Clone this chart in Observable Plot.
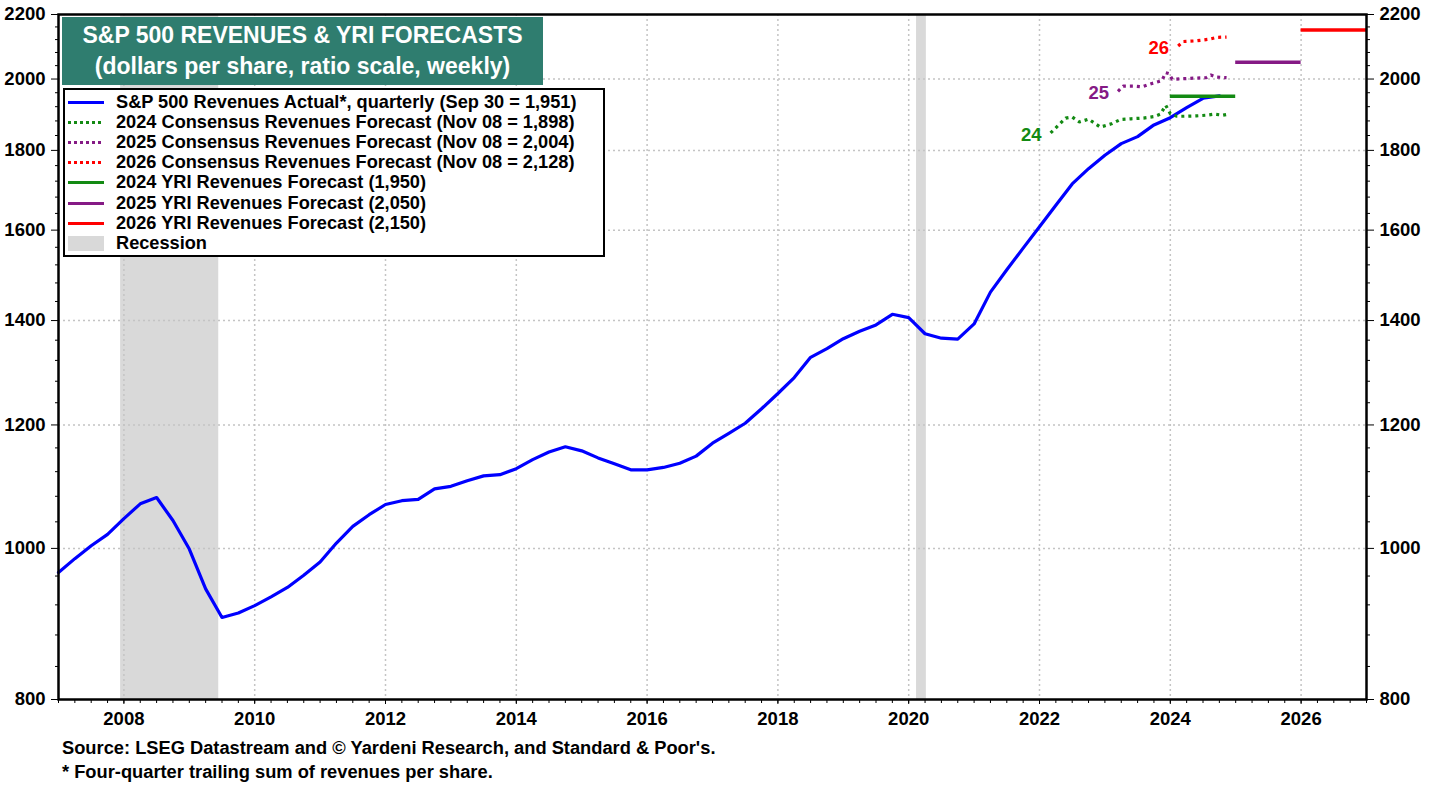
<!DOCTYPE html>
<html><head><meta charset="utf-8">
<script src="https://cdn.jsdelivr.net/npm/d3@7"></script>
<script src="https://cdn.jsdelivr.net/npm/@observablehq/plot@0.6"></script>
<style>
body{margin:0;background:#fff;font-family:"Liberation Sans",Arial,sans-serif;}
#wrap{position:relative;width:1438px;height:790px;overflow:hidden;}
#title{position:absolute;left:62px;top:17px;width:481px;height:68px;background:#2f7d6f;color:#fff;font-weight:bold;font-size:23px;text-align:center;box-sizing:border-box;padding-top:3px;line-height:31px;white-space:nowrap;}
#legend{position:absolute;left:63px;top:88px;width:542px;height:169px;border:2px solid #000;background:#fff;box-sizing:border-box;}
.row{position:absolute;left:0;height:20px;line-height:20px;font-weight:bold;font-size:18.2px;white-space:nowrap;}
.row svg{position:absolute;left:1px;top:0;}
.row span{position:absolute;left:51px;top:0;}
.cap{position:absolute;left:62px;font-weight:bold;font-size:18.3px;white-space:nowrap;}
</style></head>
<body>
<div id="wrap">
<div id="chart"></div>
<div id="title">S&amp;P 500 REVENUES &amp; YRI FORECASTS<br>(dollars per share, ratio scale, weekly)</div>
<div id="legend"></div>
<div class="cap" style="top:737px">Source: LSEG Datastream and © Yardeni Research, and Standard &amp; Poor's.</div>
<div class="cap" style="top:761px">* Four-quarter trailing sum of revenues per share.</div>
</div>
<script>
// ---- Data ----
const actualDates = [2007.00,2007.25,2007.50,2007.75,2008.00,2008.25,2008.50,2008.75,2009.00,2009.25,2009.50,2009.75,
2010.00,2010.25,2010.50,2010.75,2011.00,2011.25,2011.50,2011.75,2012.00,2012.25,2012.50,2012.75,
2013.00,2013.25,2013.50,2013.75,2014.00,2014.25,2014.50,2014.75,2015.00,2015.25,2015.50,2015.75,
2016.00,2016.25,2016.50,2016.75,2017.00,2017.25,2017.50,2017.75,2018.00,2018.25,2018.50,2018.75,
2019.00,2019.25,2019.50,2019.75,2020.00,2020.25,2020.50,2020.75,2021.00,2021.25,2021.50,2021.75,
2022.00,2022.25,2022.50,2022.75,2023.00,2023.25,2023.50,2023.75,2024.00,2024.25,2024.50,2024.75];
const actualValues = [965,985,1004,1021,1045,1068,1078,1042,999,942,903,909,
919,931,944,961,980,1008,1033,1051,1067,1073,1075,1092,
1096,1105,1113,1115,1125,1140,1153,1162,1155,1143,1133,1123,
1123,1127,1134,1146,1168,1185,1203,1229,1257,1287,1326,1343,
1363,1378,1391,1413,1406,1373,1364,1362,1393,1460,1509,1558,
1608,1660,1713,1752,1787,1818,1837,1869,1889,1917,1944,1951];

const cons24Dates  = [2022.17,2022.30,2022.40,2022.50,2022.61,2022.75,2022.93,2023.10,2023.24,2023.40,2023.59,2023.75,2023.85,2023.93,2024.00,2024.10,2024.21,2024.40,2024.55,2024.67,2024.80,2024.86];
const cons24Values = [1847,1870,1888,1891,1877,1885,1863,1872,1884,1886,1888,1892,1899,1924,1900,1893,1893,1894,1896,1899,1896,1898];
const cons25Dates  = [2023.20,2023.28,2023.46,2023.57,2023.72,2023.87,2023.93,2023.98,2024.03,2024.29,2024.55,2024.62,2024.70,2024.86];
const cons25Values = [1964,1979,1979,1977,1987,1995,2019,2016,1999,2002,2004,2012,2006,2004];
const cons26Dates  = [2024.12,2024.20,2024.39,2024.59,2024.72,2024.86];
const cons26Values = [2100,2114,2116,2121,2127,2128];

const yriStart  = [2024,2025,2026];
const yriEnd    = [2025,2026,2027];
const yriValues = [1950,2050,2150];

const recessionStart = [2007.95,2020.12];
const recessionEnd   = [2009.45,2020.27];

const seriesLabels = ["24","25","26"];
const colGreen="#138a13", colPurple="#851a85", colRed="#ff0000", colBlue="#0000ff";
const yriColors = [colGreen,colPurple,colRed];

const yTicks = [800,1000,1200,1400,1600,1800,2000,2200];
const yMinor = [840,880,920,960,1040,1080,1120,1160,1240,1280,1320,1360,1440,1480,1520,1560,1640,1680,1720,1760,1840,1880,1920,1960,2040,2080,2120,2160];
const xTicks = [2008,2010,2012,2014,2016,2018,2020,2022,2024,2026];
const gridY = [1000,1200,1400,1600,1800,2000];

const legendLabels = [
 "S&P 500 Revenues Actual*, quarterly (Sep 30 = 1,951)",
 "2024 Consensus Revenues Forecast (Nov 08 = 1,898)",
 "2025 Consensus Revenues Forecast (Nov 08 = 2,004)",
 "2026 Consensus Revenues Forecast (Nov 08 = 2,128)",
 "2024 YRI Revenues Forecast (1,950)",
 "2025 YRI Revenues Forecast (2,050)",
 "2026 YRI Revenues Forecast (2,150)",
 "Recession"];
const legendColors = [colBlue,colGreen,colPurple,colRed,colGreen,colPurple,colRed,"#d9d9d9"];
const legendKinds  = ["solid","dot","dot","dot","solid","solid","solid","box"];

// ---- Tables ----
const actual = actualDates.map((t,i)=>({t, v:actualValues[i]}));
const mk = (ds,vs)=>ds.map((t,i)=>({t, v:vs[i]}));
const cons = [mk(cons24Dates,cons24Values), mk(cons25Dates,cons25Values), mk(cons26Dates,cons26Values)];
const consColors = [colGreen,colPurple,colRed];
const yri = yriStart.map((s,i)=>({s, e:yriEnd[i], v:yriValues[i], c:yriColors[i]}));
const recessions = recessionStart.map((s,i)=>({s, e:recessionEnd[i]}));
const labelsData = cons.map((c,i)=>({t:c[0].t, v:c[0].v, label:seriesLabels[i], c:consColors[i]}));
const xMinor = d3.range(2007, 2027.001, 0.25);

const grid = {stroke:"#c4c4c4", strokeWidth:1.5, strokeDasharray:"2,3"};
const lab = {fontSize:18.5, fontWeight:"bold", fill:"#000"};

const chart = Plot.plot({
  width:1438, height:790,
  marginLeft:58, marginRight:72, marginTop:14, marginBottom:91,
  x:{type:"linear", domain:[2007,2027], label:null},
  y:{type:"log", domain:[800,2200], label:null},
  color:{type:"identity"},
  style:{fontFamily:"'Liberation Sans', Arial, sans-serif", fontSize:"18px", fontWeight:"bold", color:"#000", background:"#fff", overflow:"visible"},
  marks:[
    Plot.rect(recessions,{x1:"s", x2:"e", fill:"#d9d9d9"}),
    Plot.ruleX(xTicks, {x:d=>d, ...grid}),
    Plot.ruleY(gridY, {y:d=>d, ...grid}),
    Plot.line(actual,{x:"t", y:"v", stroke:colBlue, strokeWidth:3.2}),
    ...cons.map((c,i)=>Plot.line(c,{x:"t", y:"v", stroke:consColors[i], strokeWidth:3.2, strokeDasharray:"3,4", strokeLinecap:"butt", strokeLinejoin:"miter"})),
    Plot.ruleY(yri,{y:"v", x1:"s", x2:"e", stroke:"c", strokeWidth:3.4, strokeLinecap:"butt"}),
    Plot.text(labelsData,{x:"t", y:"v", text:"label", fill:"c", textAnchor:"end", dx:-9, dy:2, fontSize:18.5, fontWeight:"bold"}),
    // axis ticks
    Plot.axisY({anchor:"left", ticks:yTicks, tickFormat:()=>"", tickSize:7, label:null}),
    Plot.axisY({anchor:"left", ticks:yMinor, tickFormat:()=>"", tickSize:3, label:null}),
    Plot.axisY({anchor:"right", ticks:yTicks, tickFormat:()=>"", tickSize:7, label:null}),
    Plot.axisY({anchor:"right", ticks:yMinor, tickFormat:()=>"", tickSize:3, label:null}),
    Plot.axisX({ticks:xTicks, tickFormat:()=>"", tickSize:5, label:null}),
    Plot.axisX({ticks:xMinor, tickFormat:()=>"", tickSize:4, label:null}),
    // axis labels
    Plot.text(yTicks,{y:d=>d, text:d=>String(d), frameAnchor:"left", textAnchor:"end", dx:-13, ...lab}),
    Plot.text(yTicks,{y:d=>d, text:d=>String(d), frameAnchor:"right", textAnchor:"start", dx:13, ...lab}),
    Plot.text(xTicks,{x:d=>d, text:d=>String(d), frameAnchor:"bottom", lineAnchor:"middle", dy:20, ...lab}),
    Plot.frame({stroke:"#000", strokeWidth:2.5})
  ]
});
document.getElementById("chart").appendChild(chart);

// ---- Legend ----
const leg = document.getElementById("legend");
legendLabels.forEach((t,i)=>{
  const row = document.createElement("div");
  row.className="row";
  row.style.top = (2 + i*20.1) + "px";
  let sw;
  if (legendKinds[i]==="box") sw = `<svg width="40" height="20"><rect x="2" y="3" width="36" height="15" fill="${legendColors[i]}"/></svg>`;
  else sw = `<svg width="40" height="20"><line x1="2" x2="38" y1="10.5" y2="10.5" stroke="${legendColors[i]}" stroke-width="3.2" ${legendKinds[i]==="dot"?'stroke-dasharray="3,3"':''}/></svg>`;
  row.innerHTML = sw + `<span></span>`;
  row.querySelector("span").textContent = t;
  leg.appendChild(row);
});
</script>
</body></html>
